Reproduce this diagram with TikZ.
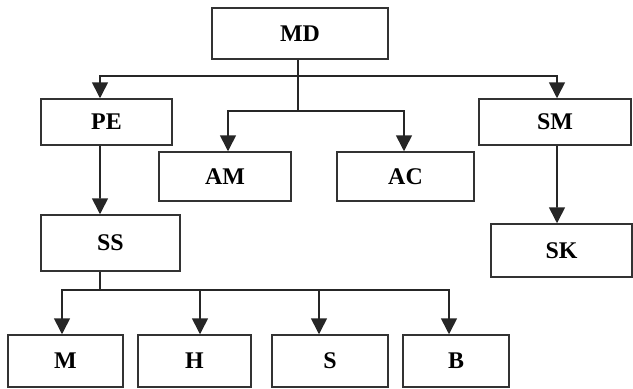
\documentclass[tikz,border=0pt]{standalone}
\usepackage{fontspec}
\setmainfont{Liberation Serif}
\usetikzlibrary{arrows.meta}
\begin{document}
\begin{tikzpicture}[x=1bp,y=-1bp,
  box/.style={draw=black!80,line width=1.5bp,rectangle,inner sep=0pt,
    font=\fontsize{24}{26}\selectfont\bfseries},
  conn/.style={line width=1.6bp,black!85},
  arr/.style={conn,-{Triangle[width=16bp,length=16bp]}}]
\useasboundingbox (0,0) rectangle (633,388);
\node[box,minimum width=176bp,minimum height=51bp] (md) at (300,33.5) {MD};
\node[box,minimum width=131bp,minimum height=46bp] (pe) at (106.5,122) {PE};
\node[box,minimum width=132bp,minimum height=49bp] (am) at (225,176.5) {AM};
\node[box,minimum width=137bp,minimum height=49bp] (ac) at (405.5,176.5) {AC};
\node[box,minimum width=152bp,minimum height=46bp] (sm) at (555,122) {SM};
\node[box,minimum width=139bp,minimum height=56bp] (ss) at (110.5,243) {SS};
\node[box,minimum width=141bp,minimum height=53bp] (sk) at (561.5,250.5) {SK};
\node[box,minimum width=115bp,minimum height=52bp] (m) at (65.5,361) {M};
\node[box,minimum width=113bp,minimum height=52bp] (h) at (194.5,361) {H};
\node[box,minimum width=116bp,minimum height=52bp] (s) at (330,361) {S};
\node[box,minimum width=106bp,minimum height=52bp] (b) at (456,361) {B};
\coordinate (mdj) at (298,76);
\coordinate (mdk) at (298,111);
\coordinate (ssj) at (100,290);
\draw[conn] (md.south -| mdj) -- (mdk);
\draw[arr] (mdj) -| ([xshift=-6.5bp]pe.north);
\draw[arr] (mdj) -| ([xshift=2bp]sm.north);
\draw[arr] (mdk) -| ([xshift=3bp]am.north);
\draw[arr] (mdk) -| ([xshift=-1.5bp]ac.north);
\draw[arr] ([xshift=-6.5bp]pe.south) -- ([xshift=-10.5bp]ss.north);
\draw[arr] ([xshift=2bp]sm.south) -- ([xshift=-4.5bp]sk.north);
\draw[conn] (ss.south -| ssj) -- (ssj);
\draw[arr] (ssj) -| ([xshift=-3.5bp]m.north);
\draw[arr] (ssj) -| ([xshift=5.5bp]h.north);
\draw[arr] (ssj) -| ([xshift=-11bp]s.north);
\draw[arr] (ssj) -| ([xshift=-7bp]b.north);
\end{tikzpicture}
\end{document}
